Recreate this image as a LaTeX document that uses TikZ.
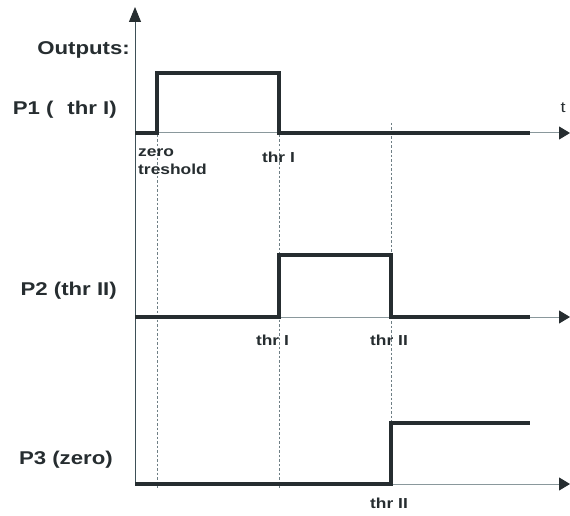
\documentclass[tikz,border=0pt]{standalone}
\usepackage{fontspec}
\setmainfont{Liberation Sans}
\newfontfamily\widefont[FakeStretch=1.2]{Liberation Sans}
\usetikzlibrary{arrows.meta}
\definecolor{ink}{HTML}{262D30}
\definecolor{axisgray}{HTML}{8A989C}
\definecolor{vaxis}{HTML}{3E5057}
\definecolor{dashgray}{HTML}{6F7F85}
\tikzset{
  sig/.style={line width=4pt, draw=ink, line join=miter},
  axisline/.style={line width=1pt, draw=axisgray, -{Triangle[length=11pt,width=13pt,fill=ink,color=ink]}},
  guide/.style={line width=0.8pt, draw=dashgray, dash pattern=on 2.5pt off 2pt},
  lbl/.style={font=\widefont\bfseries\fontsize{18.5}{21}\selectfont, text=ink, inner sep=0pt},
  tick/.style={font=\widefont\bfseries\fontsize{14.5}{18}\selectfont, text=ink, inner sep=0pt},
}
\begin{document}
\begin{tikzpicture}[x=1pt,y=-1pt]
\useasboundingbox (0,0) rectangle (570,516);
% coordinates
\coordinate (o1) at (135,133);
\coordinate (e1) at (570,133);
\coordinate (o2) at (135,317);
\coordinate (e2) at (570,317);
\coordinate (o3) at (135,484);
\coordinate (e3) at (570,484);
\coordinate (top) at (135,7);
% guides
\coordinate (gz1) at (157,135);
\coordinate (gz2) at (157,488);
\coordinate (ga1) at (279,135);
\coordinate (ga2) at (279,488);
\coordinate (gb1) at (391,123);
\coordinate (gb2) at (391,423);
\draw[guide] (gz1) -- (gz2);
\draw[guide] (ga1) -- (ga2);
\draw[guide] (gb1) -- (gb2);
% axes
\draw[axisline, draw=vaxis, -{Triangle[length=15pt,width=12pt,fill=ink,color=ink]}] (o3) -- (top);
\draw[axisline] (o1) -- (e1);
\draw[axisline] (o2) -- (e2);
\draw[axisline] (o3) -- (e3);
% signals
\draw[sig] (135,133) -- (157,133) -- (157,73) -- (279,73) -- (279,133) -- (530,133);
\draw[sig] (135,317) -- (279,317) -- (279,255) -- (391,255) -- (391,317) -- (530,317);
\draw[sig] (135,484) -- (391,484) -- (391,423) -- (530,423);
% labels
\node[lbl, anchor=east] (outl) at (130,50) {Outputs:};
\node[lbl, anchor=east] (p1) at (117,110) {P1 (\hspace{14pt}thr I)};
\node[lbl, anchor=east] (p2) at (117,291) {P2 (thr II)};
\node[lbl, anchor=east] (p3) at (113,460) {P3 (zero)};
\node[font=\widefont\fontsize{15}{17}\selectfont, text=ink, inner sep=0pt] (t) at (563,108) {t};
\node[tick, anchor=north west, align=left] (zt) at (138,148) {zero\\treshold};
\node[tick] (t1a) at (278.5,157) {thr I};
\node[tick] (t1b) at (272.5,340) {thr I};
\node[tick] (t2a) at (389,340) {thr II};
\node[tick] (t2b) at (389,503) {thr II};
\end{tikzpicture}
\end{document}
